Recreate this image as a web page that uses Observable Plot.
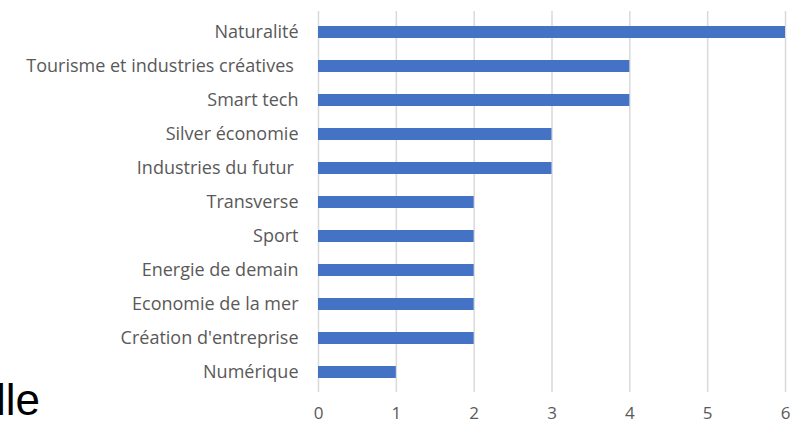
<!DOCTYPE html>
<html>
<head>
<meta charset="utf-8">
<script src="https://cdn.jsdelivr.net/npm/d3@7"></script>
<script src="https://cdn.jsdelivr.net/npm/@observablehq/plot@0.6"></script>
<style>
  html, body { margin: 0; padding: 0; background: #fff; }
  #wrap { position: relative; width: 791px; height: 427px; overflow: hidden; }
  #chart svg { overflow: visible; }
  #chart svg text { white-space: pre; }
  #stray { position: absolute; left: -4px; top: 378px; font-family: "Liberation Sans", Arial, sans-serif; font-size: 44px; color: #000; line-height: 1; }
</style>
</head>
<body>
<div id="wrap">
  <div id="chart"></div>
  <div id="stray">lle</div>
</div>
<script>
const categories = [
  "Naturalité",
  "Tourisme et industries créatives ",
  "Smart tech",
  "Silver économie",
  "Industries du futur ",
  "Transverse",
  "Sport",
  "Energie de demain",
  "Economie de la mer",
  "Création d'entreprise",
  "Numérique"
];
const values = [6, 4, 4, 3, 3, 2, 2, 2, 2, 2, 1];
const xTicks = [0, 1, 2, 3, 4, 5, 6];

const data = categories.map((c, i) => ({category: c, value: values[i]}));

const chart = Plot.plot({
  width: 791,
  height: 427,
  marginTop: 11,
  marginBottom: 35,
  marginLeft: 318,
  marginRight: 6,
  style: {fontFamily: "'Open Sans', sans-serif", fontSize: "18px", color: "#595959", background: "#fff"},
  x: {domain: [0, 6], ticks: xTicks, label: null},
  y: {domain: categories, paddingInner: 0.65, paddingOuter: 0.325, label: null},
  marks: [
    Plot.gridX(xTicks, {stroke: "#d9d9d9", strokeOpacity: 1, strokeWidth: 1.5}),
    Plot.barX(data, {x: "value", y: "category", fill: "#4472c4"}),
    Plot.axisX({ticks: xTicks, tickFormat: d3.format("d"), tickSize: 0, tickPadding: 14, label: null, fontSize: 17, fill: "#595959"}),
    Plot.axisY({tickSize: 0, tickPadding: 20, label: null, fontSize: 18, fill: "#595959"})
  ]
});
document.getElementById("chart").appendChild(chart);
</script>
</body>
</html>
